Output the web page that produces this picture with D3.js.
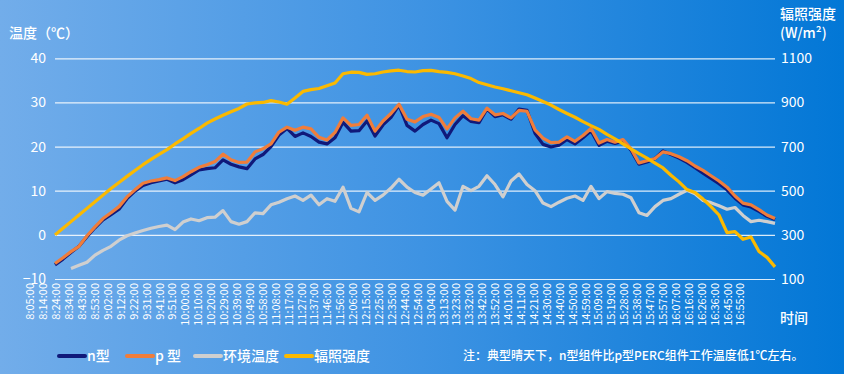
<!DOCTYPE html>
<html>
<head>
<meta charset="utf-8">
<script src="https://cdn.jsdelivr.net/npm/d3@7"></script>
<style>
  html, body { margin: 0; padding: 0; }
  body { width: 844px; height: 374px; overflow: hidden; }
  svg text { font-family: "Noto Sans CJK SC", "Noto Sans", sans-serif; fill: #fff; }
</style>
</head>
<body>
<svg id="chart"></svg>
<script>
const width = 844, height = 374;

// category labels on the x axis
const timeLabels = ["8:05:00","8:14:00","8:24:00","8:34:00","8:43:00","8:53:00","9:02:00","9:12:00","9:22:00","9:31:00",
  "9:41:00","9:51:00","10:00:00","10:10:00","10:20:00","10:29:00","10:39:00","10:49:00","10:58:00","11:08:00",
  "11:17:00","11:27:00","11:37:00","11:46:00","11:56:00","12:06:00","12:15:00","12:25:00","12:35:00","12:44:00",
  "12:54:00","13:04:00","13:13:00","13:23:00","13:32:00","13:42:00","13:52:00","14:01:00","14:11:00","14:21:00",
  "14:30:00","14:40:00","14:50:00","14:59:00","15:09:00","15:19:00","15:28:00","15:38:00","15:47:00","15:57:00",
  "16:07:00","16:16:00","16:26:00","16:36:00","16:45:00","16:55:00"];

const tempTicks = [40, 30, 20, 10, 0, -10];
const irrTicks = [1100, 900, 700, 500, 300, 100];

// sampled readings, evenly spaced through the day
const nType = [-6.8,-5.5,-4.0,-2.6,-0.4,1.6,3.4,4.6,5.8,8.2,9.9,11.2,11.8,12.2,12.6,11.8,12.5,13.6,14.7,15.0,
  15.2,17.0,16.0,15.4,15.0,17.2,18.2,20.0,22.6,24.1,22.3,23.1,22.3,21.0,20.6,22.0,25.5,23.5,23.6,25.8,
  22.4,24.9,26.6,29.4,24.8,23.5,25.0,26.0,25.2,22.0,25.0,27.0,25.7,25.4,28.5,26.8,27.2,26.2,28.5,28.2,
  23.0,20.5,19.9,20.3,21.6,20.6,22.0,23.6,20.3,21.2,20.7,21.2,19.2,16.0,16.5,17.3,19.0,18.2,17.4,16.4,
  15.2,14.0,12.8,11.6,10.2,8.3,6.8,6.3,5.3,4.2,3.5];

const pType = [-6.5,-5.2,-3.8,-2.6,-0.2,1.8,3.7,5.0,6.4,8.6,10.2,11.7,12.2,12.5,12.9,12.3,13.2,14.3,15.3,15.9,
  16.6,18.3,17.0,16.4,16.5,18.8,19.5,20.6,23.3,24.4,23.7,24.4,24.0,22.1,21.5,23.2,26.5,24.8,25.0,27.1,
  23.5,25.8,27.5,29.6,26.2,25.6,26.8,27.3,26.6,24.0,26.5,28.0,26.3,26.0,28.7,27.2,27.5,26.5,28.2,28.0,
  23.8,21.9,20.9,21.0,22.2,21.2,22.5,24.1,20.8,21.6,21.0,21.6,19.5,16.3,16.8,17.3,18.8,18.4,17.7,16.8,
  15.6,14.6,13.4,12.2,10.8,8.8,7.2,6.8,5.7,4.5,3.7];

const ambient = [null,null,-7.6,-6.9,-6.2,-4.6,-3.5,-2.6,-1.2,-0.2,0.4,1.0,1.5,1.9,2.2,1.2,2.9,3.6,3.2,3.9,
  4.0,5.5,3.0,2.4,3.0,5.0,4.8,6.8,7.4,8.2,8.8,7.8,9.0,6.8,8.2,7.6,10.8,6.0,5.2,9.6,
  7.8,9.0,10.6,12.6,10.8,9.6,9.0,10.4,11.8,7.6,5.6,11.0,10.0,11.0,13.4,11.4,8.6,12.2,13.8,11.4,
  10.0,7.2,6.4,7.4,8.3,8.8,7.8,11.0,8.2,9.8,9.4,9.2,8.4,5.0,4.4,6.4,7.8,8.2,9.2,10.1,
  9.3,7.8,7.3,6.6,5.8,6.2,4.4,3.0,3.3,3.0,2.6];

const irradiance = [300,330,360,390,420,450,480,510,537,565,592,618,642,665,686,712,735,760,782,806,
  825,842,858,873,893,898,900,908,902,892,920,950,958,963,976,988,1030,1037,1036,1027,
  1030,1038,1043,1046,1040,1038,1044,1045,1040,1036,1030,1020,1008,990,980,970,962,953,944,935,
  920,904,888,868,850,833,813,795,778,755,735,712,690,668,648,625,603,570,540,505,
  492,462,428,390,310,315,280,290,225,198,155];

const series = [
  { name: "n型", values: nType, color: "#10197a", axis: "temp" },
  { name: "p 型", values: pType, color: "#f07d3a", axis: "temp" },
  { name: "环境温度", values: ambient, color: "#cfcfcf", axis: "temp" },
  { name: "辐照强度", values: irradiance, color: "#fbb900", axis: "irr" }
];

const svg = d3.select('#chart').attr('width', width).attr('height', height);

// background gradient
const defs = svg.append('defs');
const grad = defs.append('linearGradient').attr('id', 'bg').attr('x1', 0).attr('x2', 1).attr('y1', 0).attr('y2', 0);
grad.append('stop').attr('offset', '0%').attr('stop-color', '#72adea');
grad.append('stop').attr('offset', '50%').attr('stop-color', '#3e93e3');
grad.append('stop').attr('offset', '100%').attr('stop-color', '#0277d6');
svg.append('rect').attr('width', width).attr('height', height).attr('fill', 'url(#bg)');

const plotLeft = 55, plotRight = 775, plotTop = 58.3, plotBottom = 279;

const yTemp = d3.scaleLinear().domain([-10, 40]).range([plotBottom, plotTop]);
const yIrr = d3.scaleLinear().domain([100, 1100]).range([plotBottom, plotTop]);
const xData = d3.scaleLinear().domain([0, nType.length - 1]).range([plotLeft, plotRight]);
const xLab = d3.scalePoint().domain(timeLabels).range([30, 740]);

// grid lines
svg.append('g')
  .attr('transform', `translate(${plotLeft},0)`)
  .call(d3.axisLeft(yTemp).tickValues(tempTicks).tickSize(-(plotRight - plotLeft)).tickFormat(''))
  .call(g => g.select('.domain').remove())
  .call(g => g.selectAll('line').attr('stroke', '#fff').attr('stroke-opacity', 0.85).attr('stroke-width', 1.2));

// left axis labels
svg.append('g')
  .attr('transform', 'translate(46,0)')
  .call(d3.axisLeft(yTemp).tickValues(tempTicks).tickSize(0).tickFormat(d3.format('d')))
  .call(g => g.select('.domain').remove())
  .call(g => g.selectAll('text').attr('font-size', 14).attr('x', 0).style('fill', '#fff'));

// right axis labels
svg.append('g')
  .attr('transform', 'translate(781,0)')
  .call(d3.axisRight(yIrr).tickValues(irrTicks).tickSize(0).tickFormat(d3.format('d')))
  .call(g => g.select('.domain').remove())
  .call(g => g.selectAll('text').attr('font-size', 14).attr('x', 0).style('fill', '#fff'));

// x labels
svg.append('g')
  .attr('transform', 'translate(0,283)')
  .call(d3.axisBottom(xLab).tickSize(0))
  .call(g => g.select('.domain').remove())
  .call(g => g.selectAll('.tick text')
    .attr('font-size', 11)
    .attr('transform', 'rotate(-90)')
    .attr('text-anchor', 'end')
    .attr('x', 0).attr('y', 0).attr('dy', '0.36em')
    .style('fill', '#fff'));

// series lines, irradiance drawn last
series.forEach(s => {
  const y = s.axis === 'temp' ? yTemp : yIrr;
  const line = d3.line()
    .defined(d => d !== null)
    .x((d, i) => xData(i))
    .y(d => y(d));
  svg.append('path')
    .datum(s.values)
    .attr('fill', 'none')
    .attr('stroke', s.color)
    .attr('stroke-width', 3.2)
    .attr('stroke-linejoin', 'round')
    .attr('d', line);
});

// axis titles
svg.append('text').attr('x', 9).attr('y', 38).attr('font-size', 14).attr('font-weight', 500).text('温度（℃）');
svg.append('text').attr('x', 780).attr('y', 19).attr('font-size', 14).attr('font-weight', 500).text('辐照强度');
svg.append('text').attr('x', 780).attr('y', 38).attr('font-size', 14).attr('font-weight', 500).text('(W/m²)');
svg.append('text').attr('x', 780).attr('y', 323).attr('font-size', 14).attr('font-weight', 500).text('时间');

// legend
const legendX = [59, 127, 195, 286];
const legend = svg.append('g').attr('transform', 'translate(0,356)');
series.forEach((s, i) => {
  const g = legend.append('g').attr('transform', `translate(${legendX[i]},0)`);
  g.append('line').attr('x1', 0).attr('x2', 26).attr('y1', 0).attr('y2', 0)
    .attr('stroke', s.color).attr('stroke-width', 4).attr('stroke-linecap', 'round');
  g.append('text').attr('x', 28).attr('y', 0).attr('dy', '0.36em')
    .attr('font-size', 14).attr('font-weight', 500).text(s.name);
});

svg.append('text').attr('x', 463).attr('y', 356).attr('dy', '0.36em')
  .attr('font-size', 12).attr('font-weight', 500)
  .text('注：典型晴天下，n型组件比p型PERC组件工作温度低1℃左右。');
</script>
</body>
</html>
